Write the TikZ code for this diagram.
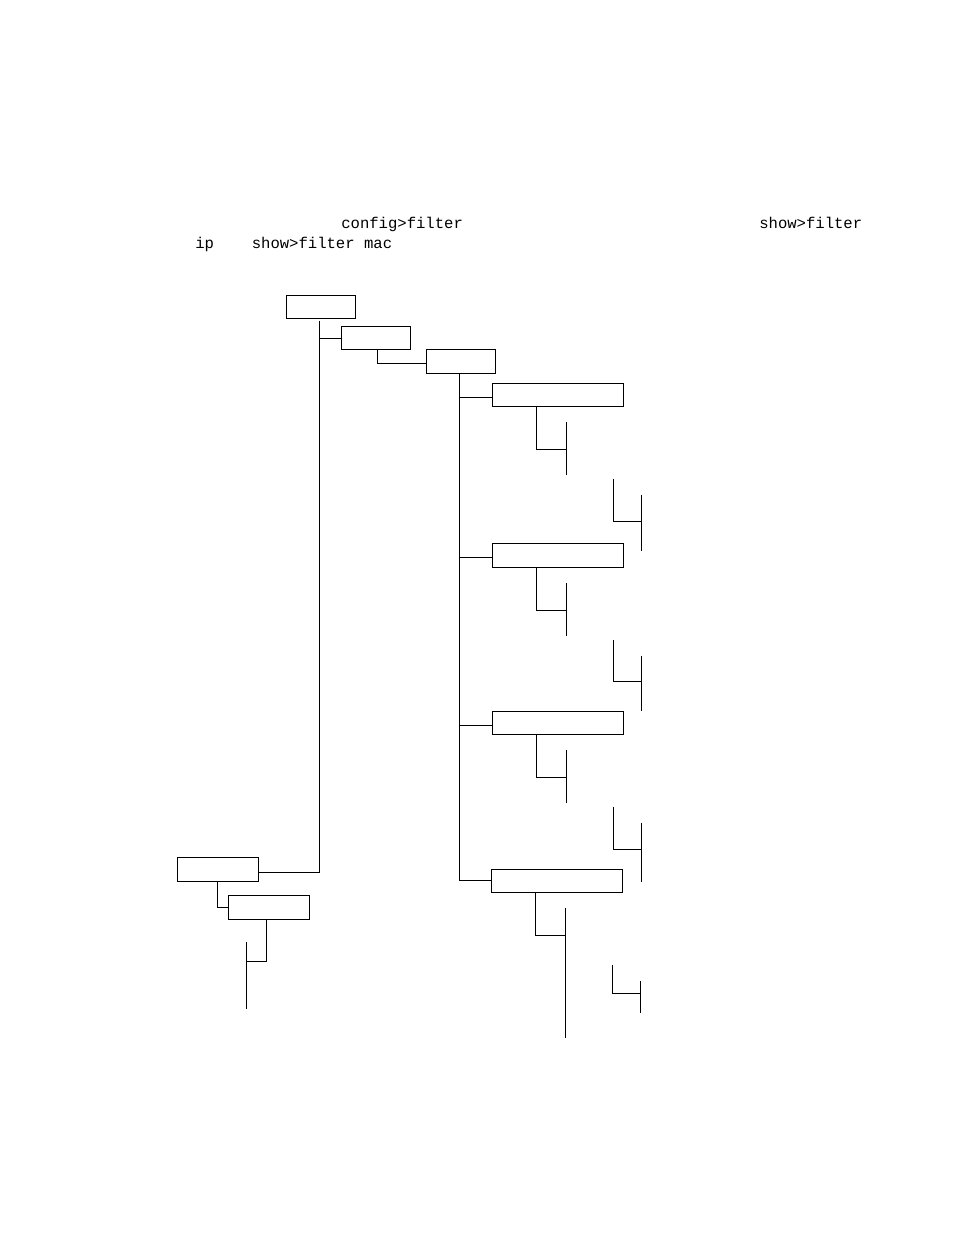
\documentclass[tikz,border=0pt]{standalone}
\usepackage{fontspec}
\setmonofont{Liberation Mono}
\usetikzlibrary{positioning,calc}
\newlength\px
\setlength\px{0.6415pt}

\begin{document}
\begin{tikzpicture}[x=\px,y=-\px,
		menubox/.style={draw=black,line width=0.75pt,inner sep=0pt,outer sep=0pt,minimum height=23\px},
		tree/.style={line width=0.75pt},
		cmdtext/.style={font=\ttfamily\fontsize{10}{12}\selectfont,anchor=base west,inner sep=0pt}]
		\useasboundingbox (0,0) rectangle (954,1235);
		
		% command names above the tree
		\node[cmdtext] (cfgcmd) at (341,228.5) {config>filter};
		\node[cmdtext] (showcmd) at (759,228.5) {show>filter};
		\node[cmdtext] (ipcmd) at (195,248.5) {ip};
		\node[cmdtext] (maccmd) at (251.5,248.5) {show>filter mac};
		
		% menu boxes
		\node[menubox,minimum width=69\px,anchor=north west] (top) at (286.5,295.5) {};
		\node[menubox,minimum width=69\px,anchor=north west] (mid) at (341.5,326.5) {};
		\node[menubox,minimum width=69\px,minimum height=24\px,anchor=north west] (low) at (426.5,349.5) {};
		\node[menubox,minimum width=131\px,anchor=north west] (e1) at (492.5,383.5) {};
		\node[menubox,minimum width=131\px,minimum height=24\px,anchor=north west] (e2) at (492.5,543.5) {};
		\node[menubox,minimum width=131\px,anchor=north west] (e3) at (492.5,711.5) {};
		\node[menubox,minimum width=131\px,anchor=north west] (e4) at (491.5,869.5) {};
		\node[menubox,minimum width=81\px,minimum height=24\px,anchor=north west] (showbox) at (177.5,857.5) {};
		\node[menubox,minimum width=81\px,minimum height=24\px,anchor=north west] (macbox) at (228.5,895.5) {};
		
		% tree lines
		\draw[tree] ([xshift=-1.5\px,yshift=-2\px]top.south) |- ([yshift=-3\px]showbox.east);
		\draw[tree] ([xshift=-1.5\px,yshift=-0.5\px]top.south |- mid.west) -- ([yshift=-0.5\px]mid.west);
		\draw[tree] ([xshift=1.5\px]mid.south) |- ([yshift=-2\px]low.west);
		\draw[tree] ([xshift=-1.5\px]low.south) |- ([yshift=0.5\px]e4.west);
		\draw[tree] ([xshift=-1.5\px,yshift=-2.5\px]low.south |- e1.west) -- ([yshift=-2.5\px]e1.west);
		\draw[tree] ([xshift=-1.5\px,yshift=-2\px]low.south |- e2.west) -- ([yshift=-2\px]e2.west);
		\draw[tree] ([xshift=-1.5\px,yshift=-2.5\px]low.south |- e3.west) -- ([yshift=-2.5\px]e3.west);
		\draw[tree] ([xshift=-0.5\px]showbox.south) |- (macbox.west);
		
		\foreach \n/\bb/\cj/\db in {e1/68/115/144,e2/68/114/143,e3/68/115/147,e4/145/101/120}{
			\coordinate (\n-j) at ($(\n.south west)+(44,43)$);
			\coordinate (\n-bt) at ($(\n.south west)+(74,15.5)$);
			\coordinate (\n-bb) at ($(\n.south west)+(74,\bb)$);
			\coordinate (\n-ct) at ($(\n.south west)+(121,72)$);
			\coordinate (\n-cj) at ($(\n.south west)+(121,\cj)$);
			\coordinate (\n-dt) at ($(\n.south west)+(149,88)$);
			\coordinate (\n-db) at ($(\n.south west)+(149,\db)$);
			\draw[tree] (\n-j |- \n.south) -- (\n-j) -- (\n-j -| \n-bt);
			\draw[tree] (\n-bt) -- (\n-bb);
			\draw[tree] (\n-ct) -- (\n-cj) -- (\n-cj -| \n-dt);
			\draw[tree] (\n-dt) -- (\n-db);
		}
		
		\coordinate (mac-j) at ($(macbox.south west)+(38,42)$);
		\coordinate (mac-t) at ($(macbox.south west)+(18,22.5)$);
		\coordinate (mac-b) at ($(macbox.south west)+(18,89.5)$);
		\draw[tree] (mac-j |- macbox.south) -- (mac-j) -- (mac-j -| mac-t);
		\draw[tree] (mac-t) -- (mac-b);
	\end{tikzpicture}
\end{document}
